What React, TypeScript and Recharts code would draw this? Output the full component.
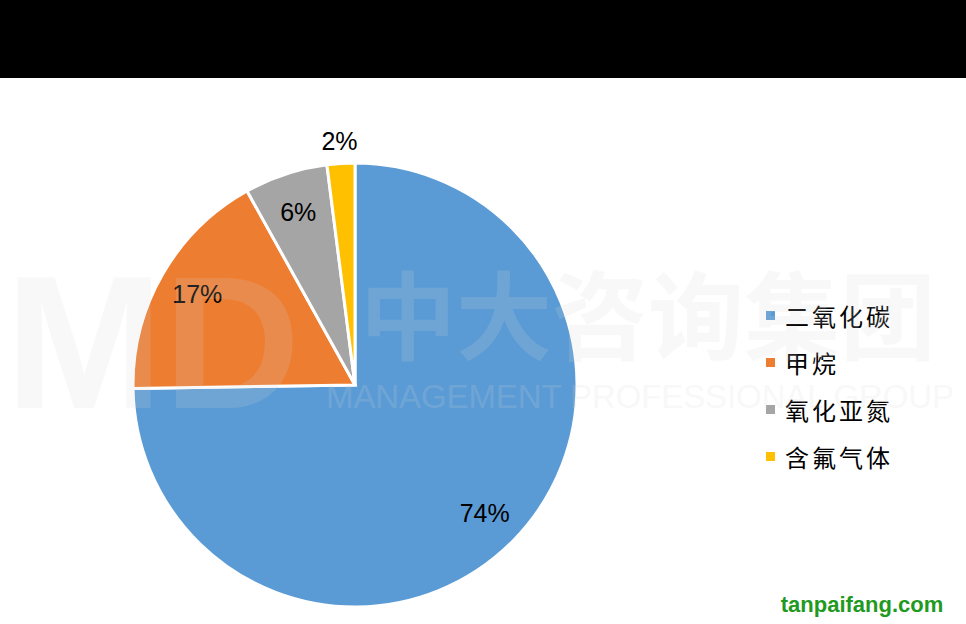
import React from "react"
import { PieChart, Pie, Cell, Legend } from "recharts"

const gases = ["二氧化碳", "甲烷", "氧化亚氮", "含氟气体"]
const shares = [74, 17, 6, 2]
const colors = ["#5B9BD5", "#ED7D31", "#A5A5A5", "#FFC000"]

const data = gases.map((name, i) => ({ name, value: shares[i] }))

const RADIAN = Math.PI / 180

function renderLabel(props: any) {
  const { cx, cy, midAngle, outerRadius, index } = props
  // small slices sit outside the pie, the rest inside
  const r = shares[index] < 4 ? outerRadius + 22 : outerRadius * 0.82
  const x = cx + r * Math.cos(-midAngle * RADIAN)
  const y = cy + r * Math.sin(-midAngle * RADIAN)
  return (
    <text
      x={x}
      y={y}
      fill="#000"
      fontSize={25}
      fontFamily="'Liberation Sans', Arial, sans-serif"
      textAnchor="middle"
      dominantBaseline="central"
    >
      {`${shares[index]}%`}
    </text>
  )
}

function LegendList() {
  return (
    <div style={{ fontFamily: "'Noto Sans CJK SC', sans-serif" }}>
      {gases.map((g, i) => (
        <div
          key={g}
          style={{ display: "flex", alignItems: "center", height: 47 }}
        >
          <span
            style={{
              width: 9,
              height: 9,
              background: colors[i],
              display: "inline-block",
              marginRight: 10,
            }}
          />
          <span style={{ fontSize: 24, letterSpacing: 3, color: "#000" }}>{g}</span>
        </div>
      ))}
    </div>
  )
}

export default function App() {
  return (
    <div
      style={{
        position: "absolute",
        left: 0,
        top: 0,
        width: 966,
        height: 624,
        background: "#fff",
        overflow: "hidden",
      }}
    >
      <div style={{ position: "absolute", left: 0, top: 0, width: 966, height: 78, background: "#000" }} />
      <PieChart width={966} height={624} style={{ position: "absolute", left: 0, top: 0 }}>
        <Pie
          data={data}
          dataKey="value"
          nameKey="name"
          cx={350}
          cy={380}
          outerRadius={222}
          startAngle={90}
          endAngle={-270}
          stroke="#fff"
          strokeWidth={3}
          label={renderLabel}
          labelLine={false}
          isAnimationActive={false}
        >
          {data.map((_, i) => (
            <Cell key={`cell-${i}`} fill={colors[i]} />
          ))}
        </Pie>
        <Legend
          layout="vertical"
          content={() => <LegendList />}
          wrapperStyle={{ left: 766, top: 292, width: 190 }}
        />
      </PieChart>
      {/* faint watermark */}
      <svg
        width={966}
        height={624}
        style={{ position: "absolute", left: 0, top: 0, pointerEvents: "none" }}
      >
        <g fill="#d8d8d8" opacity={0.16}>
          <text x={5} y={408} fontSize={190} fontWeight="bold" fontFamily="'Liberation Sans', sans-serif">
            MD
          </text>
          <text x={360} y={352} fontSize={96} fontWeight="bold" fontFamily="'Noto Sans CJK SC', sans-serif">
            中大咨询集团
          </text>
          <text x={326} y={408} fontSize={33} fontFamily="'Liberation Sans', sans-serif" textLength={628}>
            MANAGEMENT PROFESSIONAL GROUP
          </text>
        </g>
        <text
          x={862}
          y={612}
          fontSize={22}
          fontWeight="bold"
          fill="#1f9a1f"
          fontFamily="'Liberation Sans', sans-serif"
          textAnchor="middle"
        >
          tanpaifang.com
        </text>
      </svg>
    </div>
  )
}
